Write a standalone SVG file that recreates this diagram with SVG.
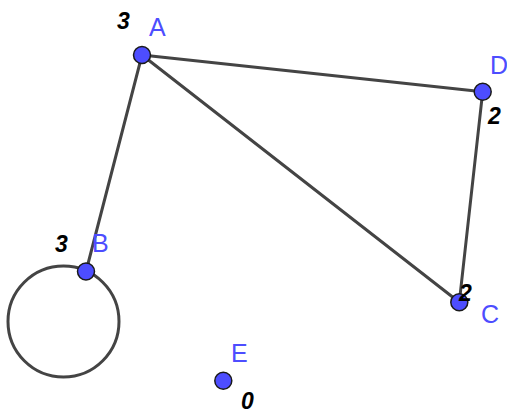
<svg xmlns="http://www.w3.org/2000/svg" width="507" height="414" viewBox="0 0 507 414">
<style>
.edge{stroke:#444;stroke-width:3;fill:none;stroke-linecap:round}
.node{fill:#4d4dff;stroke:#1a1a1a;stroke-width:1.5}
.lbl{font-family:"Liberation Sans",Arial,sans-serif;font-size:25px;fill:#4d4dff}
.deg{font-family:"Liberation Sans",Arial,sans-serif;font-size:23px;font-weight:bold;font-style:italic;fill:#000}
</style>
<rect width="507" height="414" fill="#fff"/>
<g id="connectors">
<line class="edge" x1="142" y1="55" x2="86" y2="271.5"/>
<line class="edge" x1="142" y1="55" x2="482.7" y2="91.7"/>
<line class="edge" x1="142" y1="55" x2="459.3" y2="302.3"/>
<line class="edge" x1="482.7" y1="91.7" x2="459.3" y2="302.3"/>
<circle class="edge" cx="63.5" cy="321.5" r="55.5"/>
</g>
<g id="node-A">
<circle class="node" cx="142" cy="55" r="8.5"/>
<text class="lbl" x="149" y="36">A</text>
<text class="deg" x="117" y="29">3</text>
</g>
<g id="node-D">
<circle class="node" cx="482.7" cy="91.7" r="8.5"/>
<text class="lbl" x="490" y="74">D</text>
<text class="deg" x="488" y="124">2</text>
</g>
<g id="node-B">
<circle class="node" cx="86" cy="271.5" r="8.5"/>
<text class="lbl" x="92" y="252">B</text>
<text class="deg" x="55" y="252">3</text>
</g>
<g id="node-C">
<circle class="node" cx="459.3" cy="302.3" r="8.5"/>
<text class="lbl" x="481" y="323">C</text>
<text class="deg" x="459" y="301">2</text>
</g>
<g id="node-E">
<circle class="node" cx="223.3" cy="380.7" r="8.5"/>
<text class="lbl" x="231" y="362">E</text>
<text class="deg" x="241" y="409">0</text>
</g>
</svg>
